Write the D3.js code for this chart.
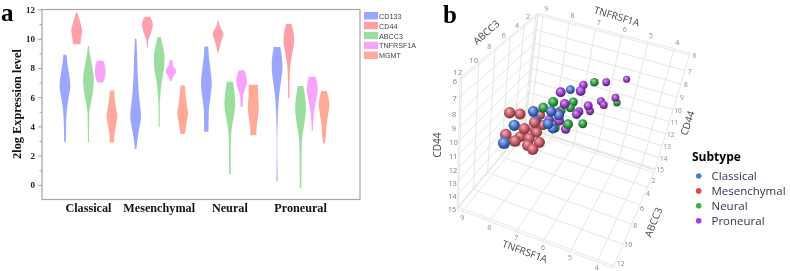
<!DOCTYPE html>
<html><head><meta charset="utf-8">
<style>html,body{margin:0;background:#fff}svg{display:block;filter:blur(.3px)}</style>
<script src="https://d3js.org/d3.v7.min.js"></script></head>
<body><svg id="c" width="790" height="271"></svg>
<script>
// ---------- panel a: violin profiles, [expression level, relative density] ----------
const subtypes=["Classical","Mesenchymal","Neural","Proneural"];
const genes=["CD133","CD44","ABCC3","TNFRSF1A","MGMT"];
const geneColors=["#9ba6ff","#ff9fa9","#9bdd9f","#f9a3fb","#ffa998"];
const classicalCD133=[[8.9,.3],[8.3,.45],[7.5,.8],[6.8,1],[6,.7],[5.3,.4],[4.5,.25],[2.95,.15]];
const classicalCD44=[[11.8,.1],[11.5,.35],[11,.75],[10.55,1],[10,.8],[9.62,.7]];
const classicalABCC3=[[9.5,.1],[9,.25],[8.3,.6],[7.2,1],[6.2,.75],[5.5,.4],[4.8,.15],[2.9,.1]];
const classicalTNF=[[8.5,.6],[8.2,.85],[7.75,1],[7.3,.85],[7,.5]];
const classicalMGMT=[[6.45,.4],[6,.5],[5.3,.75],[4.7,1],[4,.7],[3.4,.45],[2.9,.4]];
const mesenchymalCD133=[[10,.15],[8.5,.3],[7,.45],[6,.65],[4.7,1],[3.8,.65],[3,.3],[2.45,.15]];
const mesenchymalCD44=[[11.5,.45],[11.3,.8],[10.95,1],[10.5,.75],[10.1,.35],[9.8,.15],[9.35,.08]];
const mesenchymalABCC3=[[10.1,.3],[9.6,.6],[8.7,1],[7.8,.85],[7,.45],[6,.2],[5.5,.12],[3.97,.1]];
const mesenchymalTNF=[[8.55,.25],[8.2,.4],[7.75,1],[7.4,.45],[7.1,.12]];
const mesenchymalMGMT=[[6.8,.4],[6,.6],[5.3,.85],[4.9,1],[4.3,.75],[3.48,.4]];
const neuralCD133=[[9.46,.35],[8.7,.5],[7.8,.8],[6.95,1],[6,.75],[5,.45],[3.63,.4]];
const neuralCD44=[[11.25,.08],[10.9,.3],[10.3,1],[9.8,.55],[9.05,.1]];
const neuralABCC3=[[7.06,.55],[6.5,.8],[5.6,1],[4.7,.75],[4,.4],[3.2,.2],[2,.15],[.73,.15]];
const neuralTNF=[[7.85,.5],[7.5,.85],[7.05,1],[6.5,.6],[6,.25],[5.35,.2]];
const neuralMGMT=[[6.85,.85],[6,.9],[5.35,1],[4.6,.85],[4,.6],[3.4,.55]];
const proneuralCD133=[[9.44,.6],[8.9,.85],[8.1,1],[7,.7],[6,.35],[5,.2],[3,.13],[.25,.12]];
const proneuralCD44=[[11,.5],[10.5,.85],[9.9,1],[9,.65],[8,.25],[7,.15],[5.92,.12]];
const proneuralABCC3=[[6.77,.5],[6,.85],[5.2,1],[4.2,.7],[3,.25],[1.5,.17],[-.2,.15]];
const proneuralTNF=[[7.4,.6],[7,.9],[6.5,1],[5.7,.65],[4.9,.3],[3.68,.1]];
const proneuralMGMT=[[6.42,.5],[5.9,.85],[5.46,1],[4.8,.75],[4,.45],[3.4,.35],[2.83,.12]];
const violinTable=[
 [classicalCD133,classicalCD44,classicalABCC3,classicalTNF,classicalMGMT],
 [mesenchymalCD133,mesenchymalCD44,mesenchymalABCC3,mesenchymalTNF,mesenchymalMGMT],
 [neuralCD133,neuralCD44,neuralABCC3,neuralTNF,neuralMGMT],
 [proneuralCD133,proneuralCD44,proneuralABCC3,proneuralTNF,proneuralMGMT]];
const yMajor=[0,2,4,6,8,10,12];
const yMinor=[1,3,5,7,9,11];

// ---------- panel b: samples per subtype ----------
const classicalTNFb=[7.29,7.82,7.11,6.74,8.45,7.15,7.23,8.20,7.98];
const classicalABCC3b=[3.5,7.5,8,8.5,7.5,8,6.5,10,6];
const classicalCD44b=[9.77,9.59,8.84,8.59,11.08,9.80,11.14,10.74,11.25];
const mesenchymalTNFb=[8.54,8.28,7.44,7.76,7.51,8.50,7.65,7.93,7.09,7.48,7.10,7.95,7.78,8.30,7.60];
const mesenchymalABCC3b=[8,7.5,9,9,8,8.5,8.5,9.5,9.5,9.5,10.5,5.5,7,7,6.5];
const mesenchymalCD44b=[9.88,10.09,9.29,9.97,10.69,11.24,10.93,10.71,10.23,10.72,10.12,11.12,11.30,12.19,11.10];
const neuralTNFb=[6.18,5.45,7.26,7.77,6.80,6.87,6.24,6.46,7.28,7.32];
const neuralABCC3b=[5.5,3.5,7,6,5.5,5.5,6,8,5,5.5];
const neuralCD44b=[7.54,9.71,8.82,10.14,9.37,9.86,10.42,9.39,10.63,11.76];
const proneuralTNFb=[5.34,6.01,6.69,6.23,7.05,5.39,6.00,5.81,6.10,6.27,6.45,6.60,6.85,6.87,6.75,7.58,7.38];
const proneuralABCC3b=[3,3.5,4.5,8,7,5,4,4.5,6.5,4.5,6.5,5,7,7.5,6.5,5.5,5];
const proneuralCD44b=[8.09,8.45,8.55,6.89,7.98,8.48,9.66,9.56,8.66,10.32,9.52,10.29,8.71,9.69,10.86,11.28,10.88];
const subtypeColors=["#4a7fe0","#e0455a","#3cb34a","#a63fe0"];
const ballRamps=[["#a9c6f2","#4474cc","#1c3670"],["#f0b4ba","#c65a66","#702a33"],["#93e09f","#2f9e44","#124f1e"],["#dba6f2","#9a3fc8","#481764"]];
const tnfTicks=[9,8,7,6,5,4];
const abcc3Ticks=[2,4,6,8,10,12];
const cd44Ticks=[6,7,8,9,10,11,12,13,14,15];

const svg=d3.select("#c");
const defs=svg.append("defs");
const serif="'Liberation Serif',serif", sans="'Open Sans',sans-serif";

// ===== panel a =====
const y=d3.scaleLinear().domain([-1,12]).range([199.5,9.5]);
const xGroup=d3.scaleBand().domain(subtypes).range([53.1,335.9]);
const xGene=d3.scalePoint().domain(genes).range([-23.5,23.5]);
const halfW=d3.scaleLinear().domain([0,1]).range([0,5.4]);
const gA=svg.append("g");
const fade=defs.append("linearGradient").attr("id","fade").attr("gradientUnits","userSpaceOnUse")
 .attr("x1",0).attr("x2",0).attr("y1",y(5.4)).attr("y2",y(.25));
[[0,1],[.5,.28],[.75,.55],[1,.85]].forEach(([o,a])=>fade.append("stop").attr("offset",o).attr("stop-color",geneColors[0]).attr("stop-opacity",a));
subtypes.forEach((s,i)=>genes.forEach((g,j)=>{
 const cx=xGroup(s)+xGroup.bandwidth()/2+xGene(g);
 const area=d3.area().y(d=>y(d[0])).x0(d=>cx-halfW(d[1])).x1(d=>cx+halfW(d[1])).curve(d3.curveMonotoneY);
 gA.append("path").attr("d",area(violinTable[i][j]))
  .attr("fill",(s==="Proneural"&&g==="CD133")?"url(#fade)":geneColors[j]);
}));
gA.append("rect").attr("x",42).attr("y",y(12)).attr("width",318).attr("height",y(-1)-y(12))
 .attr("fill","none").attr("stroke","#a6a6a6").attr("stroke-width",1.2);
const axMinor=d3.axisLeft(y).tickValues(yMinor).tickSize(2.5).tickFormat("");
const axMajor=d3.axisLeft(y).tickValues(yMajor).tickSize(4).tickPadding(3);
[axMinor,axMajor].forEach(a=>{
 const g=gA.append("g").attr("transform","translate(42,0)").call(a);
 g.select(".domain").remove();
 g.selectAll("line").attr("stroke","#a6a6a6");
 g.selectAll("text").attr("font-family",serif).attr("font-weight","bold").attr("font-size",9).attr("fill","#222");
});
gA.selectAll("text.group").data(subtypes).join("text").attr("class","group")
 .attr("x",d=>xGroup(d)+xGroup.bandwidth()/2).attr("y",211.5).attr("text-anchor","middle")
 .attr("font-family",serif).attr("font-weight","bold").attr("font-size",12.2).attr("fill","#111").text(d=>d);
gA.append("text").attr("transform","translate(21,104) rotate(-90)").attr("text-anchor","middle")
 .attr("font-family",serif).attr("font-weight","bold").attr("font-size",12.3).attr("fill","#111").text("2log Expression level");
const legA=d3.scalePoint().domain(genes).range([15.7,55.3]);
gA.selectAll("rect.sw").data(genes).join("rect").attr("class","sw")
 .attr("x",364).attr("y",d=>legA(d)-3.7).attr("width",14).attr("height",7.4).attr("fill",(d,i)=>geneColors[i]);
gA.selectAll("text.lg").data(genes).join("text").attr("class","lg")
 .attr("x",379).attr("y",d=>legA(d)+3).attr("font-family","'Liberation Sans',sans-serif").attr("font-size",7.2)
 .attr("fill","#444").text(d=>d);
svg.append("text").attr("x",1).attr("y",20.5).attr("font-family",serif).attr("font-weight","bold").attr("font-size",25).attr("fill","#000").text("a");
svg.append("text").attr("x",443).attr("y",22.5).attr("font-family",serif).attr("font-weight","bold").attr("font-size",25).attr("fill","#000").text("b");

// ===== panel b: box projected from its 8 screen corners =====
const boxCorners={A:[538,13],B:[690,53],C:[460,78],D:[650,136],E:[525,128],F:[655,170],G:[457,209],H:[613,268]};
const uS=d3.scaleLinear().domain([9.2,3.4]).range([0,1]);
const vLin=d3.scaleLinear().domain([1.5,12.2]).range([0,1]);
const vPow=d3.scalePow().exponent(1.2).domain([0,1]).range([0,1]);
const vS=a=>vPow(vLin(a));
const wLin=d3.scaleLinear().domain([5.9,15.1]).range([0,1]);
const wPow=d3.scalePow().exponent(.9).domain([0,1]).range([0,1]);
const wS=c=>wPow(wLin(c));
const mix=(p,q,t)=>[p[0]+(q[0]-p[0])*t,p[1]+(q[1]-p[1])*t];
function proj(u,v,w){const k=boxCorners;
 return mix(mix(mix(k.A,k.C,v),mix(k.B,k.D,v),u),mix(mix(k.E,k.G,v),mix(k.F,k.H,v),u),w);}
const gB=svg.append("g");
const line=d3.line();
const grid=(a,b)=>gB.append("path").attr("d",line([a,b])).attr("fill","none").attr("stroke","#e3e3e3").attr("stroke-width",.9);
const uVals=[0,...tnfTicks.map(uS),1], vVals=[0,...abcc3Ticks.map(vS),1], wVals=[0,...cd44Ticks.map(wS),1];
uVals.forEach(u=>{grid(proj(u,0,0),proj(u,0,1));grid(proj(u,0,1),proj(u,1,1));});
vVals.forEach(v=>{grid(proj(0,v,0),proj(0,v,1));grid(proj(0,v,1),proj(1,v,1));});
wVals.forEach(w=>{grid(proj(0,0,w),proj(0,1,w));grid(proj(0,0,w),proj(1,0,w));});

const label=(p,dx,dy,t,size,fill)=>gB.append("text").attr("x",p[0]+dx).attr("y",p[1]+dy).attr("text-anchor","middle")
 .attr("dominant-baseline","central").attr("font-family",sans).attr("font-size",size).attr("fill",fill).text(t);
tnfTicks.forEach(t=>{label(proj(uS(t),0,0),3,-6,t,7,"#8a8a8a");label(proj(uS(t),1,1),0,6,t,7,"#8a8a8a");});
abcc3Ticks.forEach(a=>{const v=vS(a);label(proj(0,v,0),-8+4*v,2-7*v,a,a>=10?8:7,"#8a8a8a");label(proj(1,v,1),-1+8*v,8-11*v,a,7,"#8a8a8a");});
cd44Ticks.forEach(c=>{label(proj(0,1,wS(c)),-5,1,c,7.5,"#7c7c7c");label(proj(1,0,wS(c)),5,1,c,6.5,"#8a8a8a");});
const title=(x,yy,r,t)=>gB.append("text").attr("transform",`translate(${x},${yy}) rotate(${r})`).attr("text-anchor","middle")
 .attr("dominant-baseline","central").attr("font-family",sans).attr("font-size",10).attr("fill","#444").text(t);
title(617,16,17,"TNFRSF1A");title(486,32,-41,"ABCC3");title(437,145,-90,"CD44");
title(687,123,-72,"CD44");title(525,251,20,"TNFRSF1A");title(653,222,-68,"ABCC3");

ballRamps.forEach((r,i)=>{
 const g=defs.append("radialGradient").attr("id","ball"+i).attr("cx","45%").attr("cy","42%").attr("r","60%").attr("fx","38%").attr("fy","32%");
 g.append("stop").attr("offset",0).attr("stop-color",r[0]);
 g.append("stop").attr("offset",.55).attr("stop-color",r[1]);
 g.append("stop").attr("offset",1).attr("stop-color",r[2]);
});
const columns=[[classicalTNFb,classicalABCC3b,classicalCD44b],[mesenchymalTNFb,mesenchymalABCC3b,mesenchymalCD44b],[neuralTNFb,neuralABCC3b,neuralCD44b],[proneuralTNFb,proneuralABCC3b,proneuralCD44b]];
const points=columns.flatMap((c,i)=>d3.zip(...c).map(([t,a,cd])=>({i,u:uS(t),v:vS(a),w:wS(cd)})));
points.forEach(p=>{p.depth=(1-p.u)*.5+p.v*.5;});
const rS=d3.scaleLinear().domain([0,1]).range([2.6,7]);
points.sort((a,b)=>a.depth-b.depth);
gB.selectAll("circle.b").data(points).join("circle").attr("class","b")
 .attr("cx",d=>proj(d.u,d.v,d.w)[0]).attr("cy",d=>proj(d.u,d.v,d.w)[1]).attr("r",d=>rS(d.depth))
 .attr("fill",d=>`url(#ball${d.i})`);

// legend
const legB=d3.scalePoint().domain(subtypes).range([176,220.7]);
svg.append("text").attr("x",692).attr("y",160.5).attr("font-family",sans).attr("font-weight","bold").attr("font-size",12).attr("fill","#000").text("Subtype");
svg.selectAll("circle.l").data(subtypes).join("circle").attr("class","l").attr("cx",698.7).attr("cy",d=>legB(d)).attr("r",2.8).attr("fill",(d,i)=>subtypeColors[i]);
svg.selectAll("text.l").data(subtypes).join("text").attr("class","l").attr("x",711.5).attr("y",d=>legB(d)+4).attr("font-family",sans).attr("font-size",11.5).attr("fill","#33334d").text(d=>d);
</script></body></html>
